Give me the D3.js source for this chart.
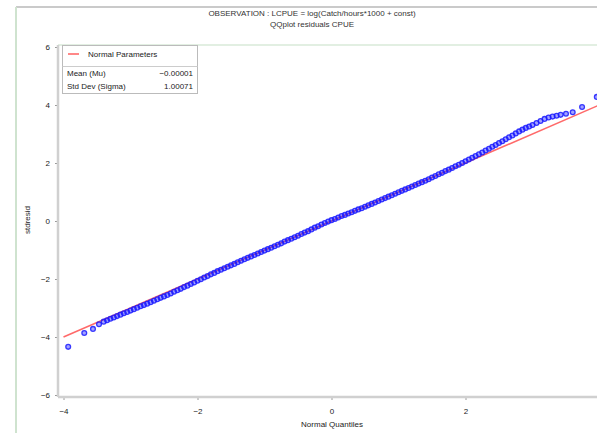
<!DOCTYPE html>
<html>
<head>
<meta charset="utf-8">
<script src="https://cdn.jsdelivr.net/npm/d3@7.9.0/dist/d3.min.js"></script>
<style>
  body { margin: 0; background: #fff; }
  svg { display: block; font-family: "Liberation Sans", Arial, sans-serif; }
</style>
</head>
<body>
<svg id="chart" width="597" height="433"></svg>
<script>
// QQ plot of standardized residuals (LCPUE)

const titleLines = [
  'OBSERVATION : LCPUE = log(Catch/hours*1000 + const)',
  'QQplot residuals CPUE'
];
const xLabel = 'Normal Quantiles';
const yLabel = 'stdresid';

const xTicks = [-4, -2, 0, 2];
const yTicks = [-6, -4, -2, 0, 2, 4, 6];

// fitted normal parameters
const mu = -0.00001;
const sigma = 1.00071;
const legendRows = [
  ['Mean (Mu)', '\u22120.00001'],
  ['Std Dev (Sigma)', '1.00071']
];

// [normal quantile, sorted residual]
const qqPoints = [
  [-3.93, -4.34], [-3.69, -3.86], [-3.56, -3.72], [-3.47, -3.56],
  [-3.40, -3.47], [-3.35, -3.42], [-3.30, -3.37], [-3.25, -3.33], [-3.20, -3.28],
  [-3.15, -3.23], [-3.10, -3.18], [-3.05, -3.14], [-3.00, -3.09], [-2.95, -3.04],
  [-2.90, -2.99], [-2.85, -2.94], [-2.80, -2.90], [-2.75, -2.85], [-2.70, -2.80],
  [-2.65, -2.75], [-2.60, -2.70], [-2.55, -2.65], [-2.50, -2.60], [-2.45, -2.55],
  [-2.40, -2.50], [-2.35, -2.44], [-2.30, -2.39], [-2.25, -2.34], [-2.20, -2.28],
  [-2.15, -2.23], [-2.10, -2.17], [-2.05, -2.12], [-2.00, -2.06], [-1.95, -2.01],
  [-1.90, -1.95], [-1.85, -1.90], [-1.80, -1.84], [-1.75, -1.79], [-1.70, -1.73],
  [-1.65, -1.68], [-1.60, -1.63], [-1.55, -1.58], [-1.50, -1.53], [-1.45, -1.48],
  [-1.40, -1.42], [-1.35, -1.37], [-1.30, -1.32], [-1.25, -1.27], [-1.20, -1.22],
  [-1.15, -1.17], [-1.10, -1.12], [-1.05, -1.07], [-1.00, -1.02], [-0.95, -0.97],
  [-0.90, -0.92], [-0.85, -0.87], [-0.80, -0.82], [-0.75, -0.77], [-0.70, -0.71],
  [-0.65, -0.66], [-0.60, -0.61], [-0.55, -0.56], [-0.50, -0.51], [-0.45, -0.45],
  [-0.40, -0.40], [-0.35, -0.35], [-0.30, -0.29], [-0.25, -0.23], [-0.20, -0.18],
  [-0.15, -0.12], [-0.10, -0.07], [-0.05, -0.02], [0.00, 0.03], [0.05, 0.07],
  [0.10, 0.12], [0.15, 0.17], [0.20, 0.21], [0.25, 0.26], [0.30, 0.30],
  [0.35, 0.35], [0.40, 0.40], [0.45, 0.44], [0.50, 0.49], [0.55, 0.54],
  [0.60, 0.59], [0.65, 0.64], [0.70, 0.69], [0.75, 0.74], [0.80, 0.79],
  [0.85, 0.84], [0.90, 0.89], [0.95, 0.94], [1.00, 0.99], [1.05, 1.04],
  [1.10, 1.09], [1.15, 1.14], [1.20, 1.19], [1.25, 1.24], [1.30, 1.29],
  [1.35, 1.34], [1.40, 1.39], [1.45, 1.44], [1.50, 1.50], [1.55, 1.55],
  [1.60, 1.61], [1.65, 1.66], [1.70, 1.72], [1.75, 1.77], [1.80, 1.83],
  [1.85, 1.89], [1.90, 1.94], [1.95, 2.00], [2.00, 2.06], [2.05, 2.12],
  [2.10, 2.18], [2.15, 2.24], [2.20, 2.30], [2.25, 2.36], [2.30, 2.43],
  [2.35, 2.49], [2.40, 2.56], [2.45, 2.62], [2.50, 2.69], [2.55, 2.75],
  [2.60, 2.82], [2.65, 2.89], [2.70, 2.95], [2.75, 3.02], [2.80, 3.09],
  [2.85, 3.15], [2.90, 3.21], [2.95, 3.26], [3.00, 3.31],
  [3.06, 3.38], [3.12, 3.45], [3.18, 3.52], [3.24, 3.57], [3.30, 3.60],
  [3.36, 3.63], [3.42, 3.66], [3.50, 3.70], [3.60, 3.75], [3.74, 3.93],
  [3.96, 4.28]
];

const svg = d3.select('#chart');

const x = d3.scaleLinear().domain([-4, 4]).range([63.5, 599.5]);
const y = d3.scaleLinear().domain([-6, 6]).range([395, 47]);

const plotLeft = 58, plotTop = 45, plotBottom = 397, plotRight = 597;

// outer frame
svg.append('line').attr('x1', 16).attr('x2', 597).attr('y1', 7).attr('y2', 7)
  .attr('stroke', '#b8b8b8').attr('stroke-width', 1.5);
svg.append('line').attr('x1', 16).attr('x2', 16).attr('y1', 7).attr('y2', 433)
  .attr('stroke', '#cfe3cf').attr('stroke-width', 2);

// titles
svg.selectAll('text.title')
  .data(titleLines)
  .enter()
  .append('text')
  .attr('class', 'title')
  .attr('x', 312)
  .attr('y', (d, i) => 16 + i * 11)
  .attr('text-anchor', 'middle')
  .attr('font-size', 8)
  .attr('fill', '#333')
  .text(d => d);

// plot frame
svg.append('line').attr('x1', plotLeft).attr('x2', plotRight).attr('y1', plotTop).attr('y2', plotTop)
  .attr('stroke', '#d8ead8').attr('stroke-width', 1.5);

svg.append('clipPath').attr('id', 'clip')
  .append('rect').attr('x', plotLeft + 1).attr('y', plotTop).attr('width', plotRight - plotLeft).attr('height', plotBottom - plotTop);

// axes
const xAxis = d3.axisBottom(x).tickValues(xTicks).tickSize(3).tickPadding(8);
const yAxis = d3.axisLeft(y).tickValues(yTicks).tickSize(3).tickPadding(5);

const gx = svg.append('g').attr('transform', `translate(0,${plotBottom})`).call(xAxis);
gx.select('.domain').remove();
gx.append('line').attr('x1', plotLeft).attr('x2', plotRight).attr('y1', 0).attr('y2', 0)
  .attr('stroke', '#d0d0d0').attr('stroke-width', 2.5);

const gy = svg.append('g').attr('transform', `translate(${plotLeft},0)`).call(yAxis);
gy.select('.domain').remove();
gy.append('line').attr('x1', 0).attr('x2', 0).attr('y1', plotTop).attr('y2', plotBottom)
  .attr('stroke', '#d0d0d0').attr('stroke-width', 2.5);

[gx, gy].forEach(g => {
  g.selectAll('.tick line').attr('stroke', '#999');
  g.selectAll('.tick text').attr('font-size', 8).attr('fill', '#222')
    .attr('font-family', '"Liberation Sans", Arial, sans-serif');
});

svg.append('text')
  .attr('x', 332).attr('y', 427)
  .attr('text-anchor', 'middle')
  .attr('font-size', 8).attr('fill', '#222')
  .text(xLabel);

svg.append('text')
  .attr('transform', 'translate(30,220) rotate(-90)')
  .attr('text-anchor', 'middle')
  .attr('font-size', 8).attr('fill', '#222')
  .text(yLabel);

// reference line  y = mu + sigma * q
const plot = svg.append('g').attr('clip-path', 'url(#clip)');
plot.append('line')
  .attr('x1', x(-4)).attr('y1', y(mu + sigma * -4))
  .attr('x2', x(4)).attr('y2', y(mu + sigma * 4))
  .attr('stroke', '#ff6a6a').attr('stroke-width', 1.6);

// residual points
plot.selectAll('circle')
  .data(qqPoints)
  .enter()
  .append('circle')
  .attr('cx', d => x(d[0]))
  .attr('cy', d => y(d[1]))
  .attr('r', 2.4)
  .attr('fill', '#1a1aff')
  .attr('fill-opacity', 0.4)
  .attr('stroke', '#1a1aff')
  .attr('stroke-width', 1.3)
  .attr('stroke-opacity', 0.85);

// legend
const lg = svg.append('g');
lg.append('rect').attr('x', 62.5).attr('y', 45.5).attr('width', 135).attr('height', 48)
  .attr('fill', '#fff').attr('stroke', '#bbb');
lg.append('line').attr('x1', 68).attr('x2', 79).attr('y1', 54).attr('y2', 54)
  .attr('stroke', '#ff6a6a').attr('stroke-width', 1.6);
lg.append('text').attr('x', 88).attr('y', 57).attr('font-size', 8).attr('fill', '#222')
  .text('Normal Parameters');
lg.append('line').attr('x1', 62.5).attr('x2', 197.5).attr('y1', 66.5).attr('y2', 66.5)
  .attr('stroke', '#ccc');
legendRows.forEach((r, i) => {
  lg.append('text').attr('x', 67).attr('y', 76 + i * 13).attr('font-size', 8).attr('fill', '#222').text(r[0]);
  lg.append('text').attr('x', 193).attr('y', 76 + i * 13).attr('font-size', 8).attr('fill', '#222')
    .attr('text-anchor', 'end').text(r[1]);
});
</script>
</body>
</html>
